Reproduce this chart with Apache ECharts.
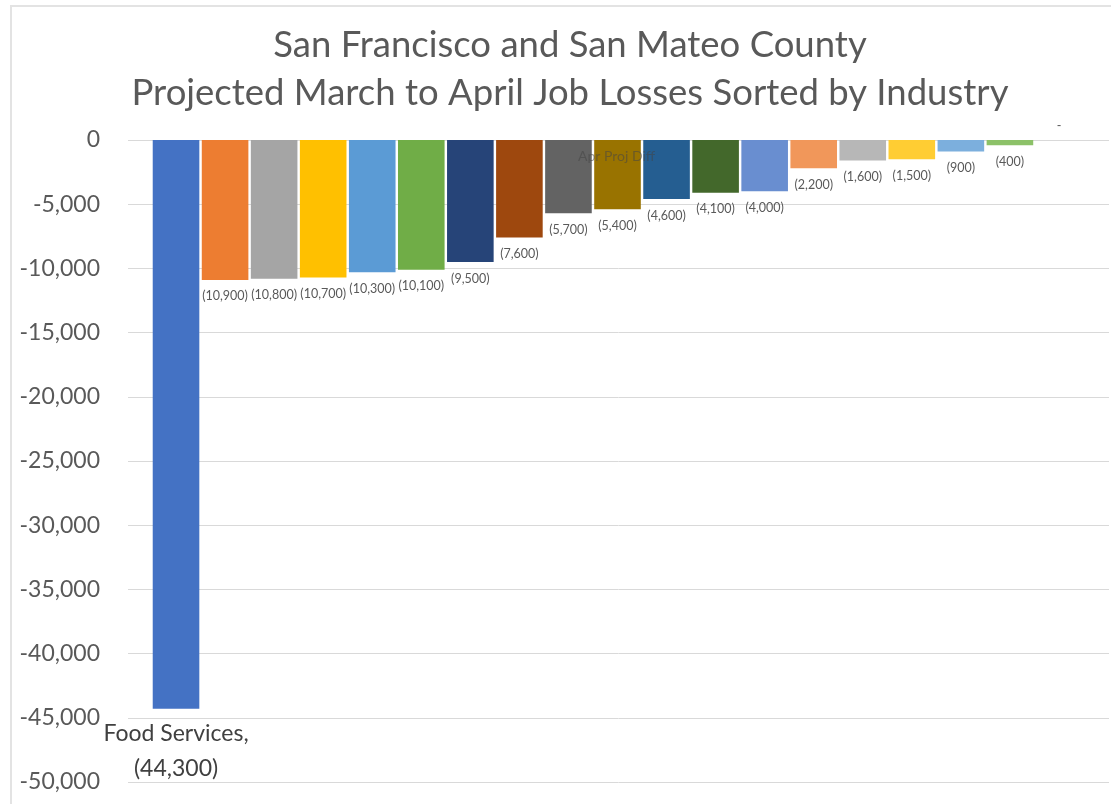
<!DOCTYPE html>
<html>
<head>
<meta charset="utf-8">
<title>Projected March to April Job Losses</title>
<script src="https://cdn.jsdelivr.net/npm/echarts@6/dist/echarts.min.js"></script>
<style>
  html, body { margin: 0; padding: 0; background: #fff; }
  #chart { width: 1111px; height: 804px; }
</style>
</head>
<body>
<div id="chart"></div>
<script>
// industries, sorted by projected loss (only the first name is shown on the chart)
var industries = ['Food Services', 'Industry 2', 'Industry 3', 'Industry 4', 'Industry 5',
  'Industry 6', 'Industry 7', 'Industry 8', 'Industry 9', 'Industry 10', 'Industry 11',
  'Industry 12', 'Industry 13', 'Industry 14', 'Industry 15', 'Industry 16', 'Industry 17',
  'Industry 18', 'Industry 19'];
var jobChange = [-44300, -10900, -10800, -10700, -10300, -10100, -9500, -7600, -5700,
  -5400, -4600, -4100, -4000, -2200, -1600, -1500, -900, -400, 0];
var barColors = ['#4472C4', '#ED7D31', '#A5A5A5', '#FFC000', '#5B9BD5', '#70AD47',
  '#264478', '#9E480E', '#636363', '#997300', '#255E91', '#43682B', '#698ED0',
  '#F1975A', '#B7B7B7', '#FFCD33', '#7CAFDD', '#8CC168', '#335AA1'];
var yTicks = { min: -50000, max: 0, interval: 5000 };

var FONT = 'Lato';
var chart = echarts.init(document.getElementById('chart'));

function fmtParen(v) {
  if (v === 0) return '-';
  var s = Math.abs(v).toLocaleString('en-US');
  return v < 0 ? '(' + s + ')' : s;
}

// one data item per industry, colour and label taken from the arrays
var barData = jobChange.map(function (v, i) {
  var item = { value: v, itemStyle: { color: barColors[i] } };
  if (i === 0) {
    item.label = {
      formatter: industries[0] + ',\n' + fmtParen(v),
      fontSize: 23, color: '#404040', lineHeight: 35, distance: 7
    };
  } else if (v === 0) {
    item.label = { position: 'top', distance: 8 };
  }
  return item;
});

var option = {
  animation: false,
  title: {
    text: 'San Francisco and San Mateo County\nProjected March to April Job Losses Sorted by Industry',
    left: 565, textAlign: 'center', top: 16,
    textStyle: { fontFamily: FONT, fontSize: 36.5, fontWeight: 'normal', color: '#595959', lineHeight: 48 }
  },
  graphic: [{
    type: 'polyline',
    shape: { points: [[11, 804], [11, 6], [1111, 6]] },
    style: { stroke: '#e3e3e3', lineWidth: 2, fill: null }
  }, {
    type: 'text', left: 578, top: 149, z: 100,
    style: { text: 'Apr Proj Diff', font: '14px ' + FONT, fill: 'rgba(70,70,70,0.55)' }
  }],
  grid: [
    { left: 128, right: 2, top: 140, bottom: 22 },
    { left: 151.5, width: 932, top: 140, bottom: 22 }
  ],
  xAxis: [
    { gridIndex: 0, type: 'value', min: 0, max: 1, show: false },
    {
      gridIndex: 1, type: 'category', data: industries, show: false
    }
  ],
  yAxis: [
    {
      gridIndex: 0, type: 'value', min: yTicks.min, max: yTicks.max, interval: yTicks.interval,
      axisLine: { show: false }, axisTick: { show: false },
      axisLabel: {
        margin: 28, fontFamily: FONT, fontSize: 23, color: '#595959',
        formatter: function (v) { return v.toLocaleString('en-US'); }
      },
      splitLine: { lineStyle: { color: '#d9d9d9', width: 1 } }
    },
    {
      gridIndex: 1, type: 'value', min: yTicks.min, max: yTicks.max, interval: yTicks.interval,
      show: false, splitLine: { show: false }
    }
  ],
  series: [
    { type: 'line', xAxisIndex: 0, yAxisIndex: 0, data: [], silent: true },
    {
      type: 'bar', xAxisIndex: 1, yAxisIndex: 1,
      barWidth: 46.6,
      data: barData,
      label: {
        show: true, position: 'bottom', distance: 10,
        fontFamily: FONT, fontSize: 12.5, color: '#595959',
        formatter: function (p) { return fmtParen(p.value); }
      }
    }
  ]
};
chart.setOption(option);
</script>
</body>
</html>
